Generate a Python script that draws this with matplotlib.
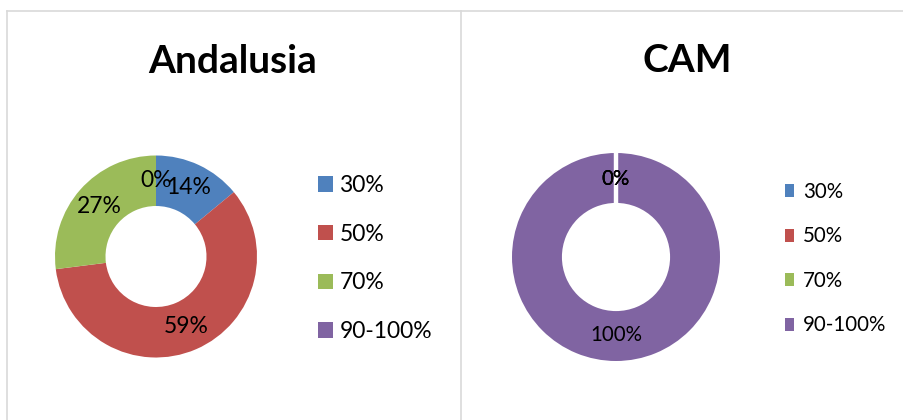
import numpy as np
import matplotlib.pyplot as plt
from matplotlib.lines import Line2D

# data
categories = ['30%', '50%', '70%', '90-100%']
colors = ['#4F81BD', '#C0504D', '#9BBB59', '#8064A2']
andalusia_values = [14, 59, 27, 0]
cam_values = [0, 0, 0, 100]

W, H = 904, 420
fig = plt.figure(figsize=(W / 100, H / 100), dpi=100)
plt.rcParams['font.family'] = ['Lato', 'DejaVu Sans']


def donut_axes(cx, cy, r):
    # axes placed in pixel coords, square box so radius 1 == r pixels
    return fig.add_axes([(cx - r) / W, (H - cy - r) / H, 2 * r / W, 2 * r / H])


# panel borders
border = '#d9d9d9'
fig.add_artist(Line2D([7 / W, 1], [1 - 11 / H, 1 - 11 / H], color=border, lw=1.2))
fig.add_artist(Line2D([7 / W, 7 / W], [0, 1 - 11 / H], color=border, lw=1.2))
fig.add_artist(Line2D([461 / W, 461 / W], [0, 1 - 11 / H], color=border, lw=1.2))

# Andalusia
ax1 = donut_axes(156, 256.5, 101)
wedges1, texts1, auto1 = ax1.pie(andalusia_values, colors=colors, startangle=90,
                                  counterclock=False, radius=1,
                                  wedgeprops=dict(width=0.5, linewidth=0),
                                  autopct='%.0f%%', pctdistance=0.75,
                                  textprops=dict(fontsize=16.5, color='black'))
ax1.set_xlim(-1, 1)
ax1.set_ylim(-1, 1)
ax1.set_aspect('equal')
fig.text(233 / W, 1 - 73 / H, 'Andalusia', ha='center', va='baseline',
         fontsize=28, fontweight='bold')
fig.legend(wedges1, categories, loc='upper left',
           bbox_to_anchor=(318 / W, 1 - 175 / H), bbox_transform=fig.transFigure,
           frameon=False, fontsize=16.5, handlelength=0.65, handleheight=0.65,
           handletextpad=0.28, labelspacing=1.21, borderpad=0, borderaxespad=0)

# CAM
ax2 = donut_axes(616, 257, 104)
wedges2, texts2, auto2 = ax2.pie(cam_values, colors=colors, startangle=90,
                                  counterclock=False, radius=1,
                                  wedgeprops=dict(width=0.48, linewidth=0),
                                  autopct='%.0f%%', pctdistance=0.75,
                                  textprops=dict(fontsize=14.8, color='black'))
# empty slices leave a white seam where they sit
for w, v in zip(wedges2, cam_values):
    if v == 0:
        a = np.deg2rad(w.theta1)
        r_out, r_in = w.r, w.r - w.width
        ax2.plot([r_in * np.cos(a), r_out * np.cos(a)],
                 [r_in * np.sin(a), r_out * np.sin(a)],
                 color='white', lw=3, solid_capstyle='butt', zorder=1.5)
for t in auto2:
    t.set_zorder(3)
ax2.set_xlim(-1, 1)
ax2.set_ylim(-1, 1)
ax2.set_aspect('equal')
fig.text(687 / W, 1 - 72 / H, 'CAM', ha='center', va='baseline',
         fontsize=28, fontweight='bold')
fig.legend(wedges2, categories, loc='upper left',
           bbox_to_anchor=(785 / W, 1 - 182 / H), bbox_transform=fig.transFigure,
           frameon=False, fontsize=14.8, handlelength=0.44, handleheight=0.6,
           handletextpad=0.44, labelspacing=1.19, borderpad=0, borderaxespad=0)

plt.savefig('out.png', dpi=100)
